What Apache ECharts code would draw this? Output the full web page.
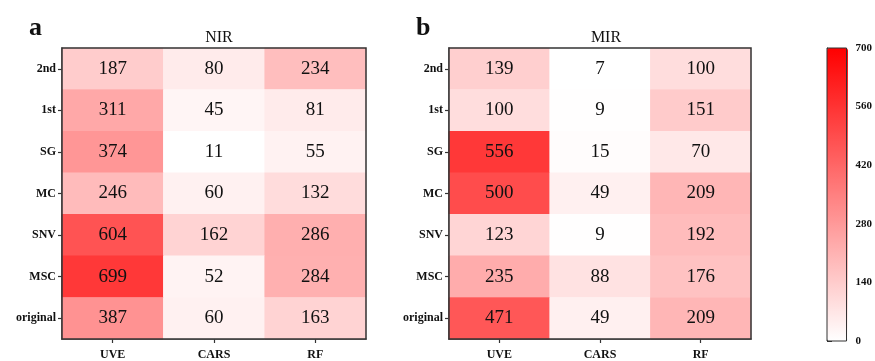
<!DOCTYPE html>
<html>
<head>
<meta charset="utf-8">
<script src="https://cdn.jsdelivr.net/npm/echarts@6/dist/echarts.min.js"></script>
<style>
html,body{margin:0;padding:0;background:#fff;}
#chart{width:875px;height:361px;}
</style>
</head>
<body>
<div id="chart"></div>
<script>
// Preprocessing methods (rows, top to bottom) and selection methods (columns)
const rowLabels = ['2nd', '1st', 'SG', 'MC', 'SNV', 'MSC', 'original'];
const colLabels = ['UVE', 'CARS', 'RF'];

// Number of selected variables, one row per preprocessing method
const nirValues = [
  [187, 80, 234],
  [311, 45, 81],
  [374, 11, 55],
  [246, 60, 132],
  [604, 162, 286],
  [699, 52, 284],
  [387, 60, 163]
];
const mirValues = [
  [139, 7, 100],
  [100, 9, 151],
  [556, 15, 70],
  [500, 49, 209],
  [123, 9, 192],
  [235, 88, 176],
  [471, 49, 209]
];
const colorbarTicks = [0, 140, 280, 420, 560, 700];

function toCells(rows) {
  const out = [];
  rows.forEach((row, r) => row.forEach((v, c) => out.push([c, r, v])));
  return out;
}
function flat(rows) { return rows.reduce((a, r) => a.concat(r), []); }

const serif = '"Liberation Serif", "DejaVu Serif", serif';
const frame = '#333333';
// cells use a slightly softened red; the colour bar shows the full ramp
const cellRamp = ['#ffffff', '#ff3838'];
const barRamp = ['#ffffff', '#ff0000'];

function catX(gi) {
  return {
    type: 'category', gridIndex: gi, data: colLabels,
    axisLine: { show: true, lineStyle: { color: frame, width: 1.5 } },
    axisTick: { show: true, alignWithLabel: true, length: 4, lineStyle: { color: frame, width: 1.2 } },
    axisLabel: { color: '#111', fontFamily: serif, fontWeight: 'bold', fontSize: 12, margin: 10 },
    splitLine: { show: false }
  };
}
function catY(gi) {
  return {
    type: 'category', gridIndex: gi, data: rowLabels, inverse: true,
    axisLine: { show: true, lineStyle: { color: frame, width: 1.5 } },
    axisTick: { show: true, alignWithLabel: true, length: 4, lineStyle: { color: frame, width: 1.2 } },
    axisLabel: { color: '#111', fontFamily: serif, fontWeight: 'bold', fontSize: 12, margin: 6 },
    splitLine: { show: false }
  };
}
function heat(gi, rows) {
  return {
    type: 'heatmap', xAxisIndex: gi, yAxisIndex: gi,
    data: toCells(rows),
    label: { show: true, color: '#111', fontFamily: serif, fontSize: 19 },
    itemStyle: { borderWidth: 0 },
    emphasis: { disabled: true }
  };
}
// each panel is scaled over its own value range
function panelMap(si, rows) {
  const vals = flat(rows);
  return {
    type: 'continuous', show: false, seriesIndex: si,
    min: Math.min.apply(null, vals), max: Math.max.apply(null, vals),
    inRange: { color: cellRamp }
  };
}

const chart = echarts.init(document.getElementById('chart'), null, { renderer: 'canvas' });
chart.setOption({
  backgroundColor: '#ffffff',
  animation: false,
  title: [
    { text: 'a', left: 24, top: 10, textStyle: { fontFamily: serif, fontWeight: 'bold', fontSize: 26, color: '#111' } },
    { text: 'NIR', left: 214, top: 25, textAlign: 'center', textStyle: { fontFamily: serif, fontWeight: 'normal', fontSize: 16, color: '#111' } },
    { text: 'b', left: 411, top: 10, textStyle: { fontFamily: serif, fontWeight: 'bold', fontSize: 26, color: '#111' } },
    { text: 'MIR', left: 601, top: 25, textAlign: 'center', textStyle: { fontFamily: serif, fontWeight: 'normal', fontSize: 16, color: '#111' } }
  ],
  grid: [
    { left: 62, top: 48, width: 304, height: 292, show: true, borderColor: frame, borderWidth: 1.5, backgroundColor: 'transparent', z: 5 },
    { left: 449, top: 48, width: 302, height: 292, show: true, borderColor: frame, borderWidth: 1.5, backgroundColor: 'transparent', z: 5 },
    { left: 827, top: 48, width: 21, height: 293, show: true, borderColor: frame, borderWidth: 1, backgroundColor: 'transparent', z: 5 }
  ],
  xAxis: [
    catX(0), catX(1),
    { type: 'value', gridIndex: 2, show: false, min: 0, max: 1 }
  ],
  yAxis: [
    catY(0), catY(1),
    {
      type: 'value', gridIndex: 2, position: 'right', min: 0, max: 700, interval: 140,
      axisLine: { show: true, lineStyle: { color: frame, width: 1 } },
      axisTick: { show: true, length: 5, lineStyle: { color: frame } },
      axisLabel: { color: '#111', fontFamily: serif, fontWeight: 'bold', fontSize: 11, margin: 9,
        formatter: v => (colorbarTicks.includes(v) ? String(v) : '') },
      splitLine: { show: false }
    }
  ],
  visualMap: [
    panelMap(0, nirValues),
    panelMap(1, mirValues),
    {
      // colour bar 0–700
      type: 'continuous', min: 0, max: 700, seriesIndex: 2,
      orient: 'vertical', left: 827, top: 48, itemWidth: 21, itemHeight: 293,
      padding: 0, calculable: false, realtime: false, text: null, showLabel: false,
      hoverLink: false,
      inRange: { color: barRamp }
    }
  ],
  series: [
    heat(0, nirValues),
    heat(1, mirValues),
    { type: 'scatter', xAxisIndex: 2, yAxisIndex: 2, data: [], silent: true }
  ]
});
</script>
</body>
</html>
